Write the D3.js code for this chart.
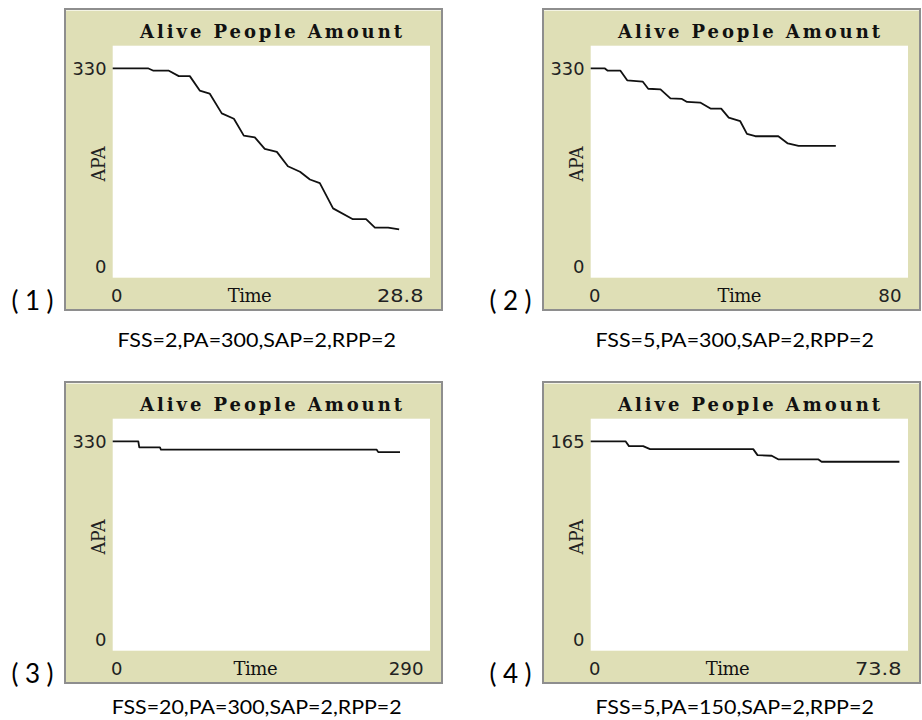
<!DOCTYPE html>
<html lang="en">
<head>
    <meta charset="utf-8">
    <script src="https://d3js.org/d3.v7.min.js"></script>
    <title>Alive People Amount</title>
    <style>
        body { margin: 0; background: #fff; }
        svg { display: block; }
    </style>
</head>
<body>
    <div id="container"></div>
    <script>
        // plot data
        const title = "Alive People Amount";
        const xName = "Time";
        const yName = "APA";
        const panelTags = ["(1)", "(2)", "(3)", "(4)"];
        const captions = ["FSS=2,PA=300,SAP=2,RPP=2", "FSS=5,PA=300,SAP=2,RPP=2",
                          "FSS=20,PA=300,SAP=2,RPP=2", "FSS=5,PA=150,SAP=2,RPP=2"];
        const xMaxLabels = ["28.8", "80", "290", "73.8"];
        const yMaxLabels = ["330", "330", "330", "165"];

        const p1Time = [0, 3.2, 3.7, 5.1, 6.0, 7.0, 7.9, 8.8, 9.9, 11.0, 11.9, 12.9, 13.8, 14.9, 15.9, 17.0, 17.9, 18.8, 20.0, 21.8, 23.0, 23.8, 25.0, 26.0];
        const p1Apa  = [330, 330, 326, 326, 317, 317, 293, 288, 255, 246, 218, 215, 196, 191, 167, 158, 145, 139, 97, 79, 79, 65, 65, 62];

        const p2Time = [0, 3.5, 4.3, 7.5, 9.2, 13.1, 14.5, 17.6, 20.1, 23.0, 24.3, 27.6, 30.2, 32.9, 34.8, 37.7, 39.4, 41.5, 47.3, 49.7, 52.4, 61.8];
        const p2Apa  = [330, 330, 326, 326, 310, 308, 296, 295, 280, 279, 274, 273, 263, 263, 248, 242, 221, 217, 217, 205, 201, 201];

        const p3Time = [0, 23.4, 24.3, 43.2, 44.1, 241.3, 242.7, 262.6];
        const p3Apa  = [330, 330, 320, 320, 316, 316, 312, 312];

        const p4Time = [0, 8.1, 8.9, 12.2, 13.8, 37.8, 38.8, 42.1, 43.6, 52.9, 53.7, 71.8];
        const p4Apa  = [165, 165, 161, 161, 158.5, 158.5, 153.5, 153, 150, 150, 148, 148];

        const series = [[p1Time, p1Apa], [p2Time, p2Apa], [p3Time, p3Apa], [p4Time, p4Apa]];

        const W = 922, H = 720;
        const offsets = [[0, 0], [478, 0], [0, 373], [478, 373]];
        const captionY = [347, 347, 341, 341];
        const svg = d3.select("#container").append("svg").attr("width", W).attr("height", H);

        const monoSerif = "'DejaVu Serif', serif";
        const digitFont = "'DejaVu Sans', sans-serif";
        const capFont = "Lato, 'Open Sans', sans-serif";

        series.forEach(function(s, i) {
            const dx = offsets[i][0], dy = offsets[i][1];
            const g = svg.append("g").attr("transform", "translate(" + dx + "," + dy + ")");

            // frame
            g.append("rect").attr("x", 65).attr("y", 9).attr("width", 377).attr("height", 301)
             .attr("fill", "#dfdfb6").attr("stroke", "#8e8e8e").attr("stroke-width", 2);
            g.append("line").attr("x1", 66).attr("y1", 10.5).attr("x2", 441).attr("y2", 10.5)
             .attr("stroke", "#f4f4e4").attr("stroke-width", 1);
            g.append("rect").attr("x", 112.7).attr("y", 45.7).attr("width", 317.3).attr("height", 232)
             .attr("fill", "#ffffff");

            const xScale = d3.scaleLinear().domain([0, +xMaxLabels[i]]).range([112.7, 430]);
            const yScale = d3.scaleLinear().domain([0, +yMaxLabels[i]]).range([266.7, 68.3]);

            g.append("text").attr("x", 271).attr("y", 38).attr("text-anchor", "middle")
             .attr("font-family", monoSerif).attr("font-weight", "bold").attr("font-size", 18)
             .attr("textLength", 262).attr("lengthAdjust", "spacing")
             .attr("fill", "#111").text(title);

            // y labels
            g.append("text").attr("x", 106.5).attr("y", yScale(+yMaxLabels[i]) + 6.5)
             .attr("text-anchor", "end").attr("font-family", digitFont).attr("font-size", 18)
             .attr("textLength", 34).attr("lengthAdjust", "spacingAndGlyphs")
             .attr("fill", "#222").text(yMaxLabels[i]);
            g.append("text").attr("x", 106.5).attr("y", yScale(0) + 6.5)
             .attr("text-anchor", "end").attr("font-family", digitFont).attr("font-size", 18)
             .attr("fill", "#222").text("0");
            g.append("text").attr("transform", "translate(104.5,164) rotate(-90)")
             .attr("text-anchor", "middle").attr("font-family", monoSerif).attr("font-size", 18)
             .attr("textLength", 35).attr("lengthAdjust", "spacingAndGlyphs")
             .attr("fill", "#222").text(yName);

            // x labels
            const x0 = g.append("text").attr("x", 111).attr("y", 301.5)
             .attr("font-family", digitFont).attr("font-size", 18)
             .attr("fill", "#222").text("0");
            g.append("text").attr("x", 423.5).attr("y", 301.5)
             .attr("text-anchor", "end").attr("font-family", digitFont).attr("font-size", 18)
             .attr("textLength", xMaxLabels[i].length * 11.6).attr("lengthAdjust", "spacingAndGlyphs")
             .attr("fill", "#222").text(xMaxLabels[i]);
            const leftEnd = 111 + x0.node().getComputedTextLength();
            const rightStart = 423.5 - xMaxLabels[i].length * 11.6;
            g.append("text").attr("x", (leftEnd + rightStart) / 2).attr("y", 301.5)
             .attr("text-anchor", "middle").attr("font-family", monoSerif).attr("font-size", 18)
             .attr("textLength", 44).attr("lengthAdjust", "spacing")
             .attr("fill", "#111").text(xName);

            // APA line
            const pts = s[0].map((t, k) => [t, s[1][k]]);
            const line = d3.line().x(d => xScale(d[0])).y(d => yScale(d[1]));
            g.append("path").datum(pts).attr("d", line)
             .attr("fill", "none").attr("stroke", "#111").attr("stroke-width", 1.8)
             .attr("stroke-linejoin", "round");

            // tag and caption
            g.append("text").attr("x", 11.5).attr("y", 310)
             .attr("font-family", capFont).attr("font-size", 26)
             .attr("textLength", 42).attr("lengthAdjust", "spacing")
             .attr("fill", "#000").text(panelTags[i]);
            g.append("text").attr("x", 256.7).attr("y", captionY[i])
             .attr("text-anchor", "middle").attr("font-family", capFont)
             .attr("font-size", 20)
             .attr("textLength", captions[i].length * 11.6).attr("lengthAdjust", "spacingAndGlyphs")
             .attr("fill", "#000").text(captions[i]);
        });
    </script>
</body>
</html>
